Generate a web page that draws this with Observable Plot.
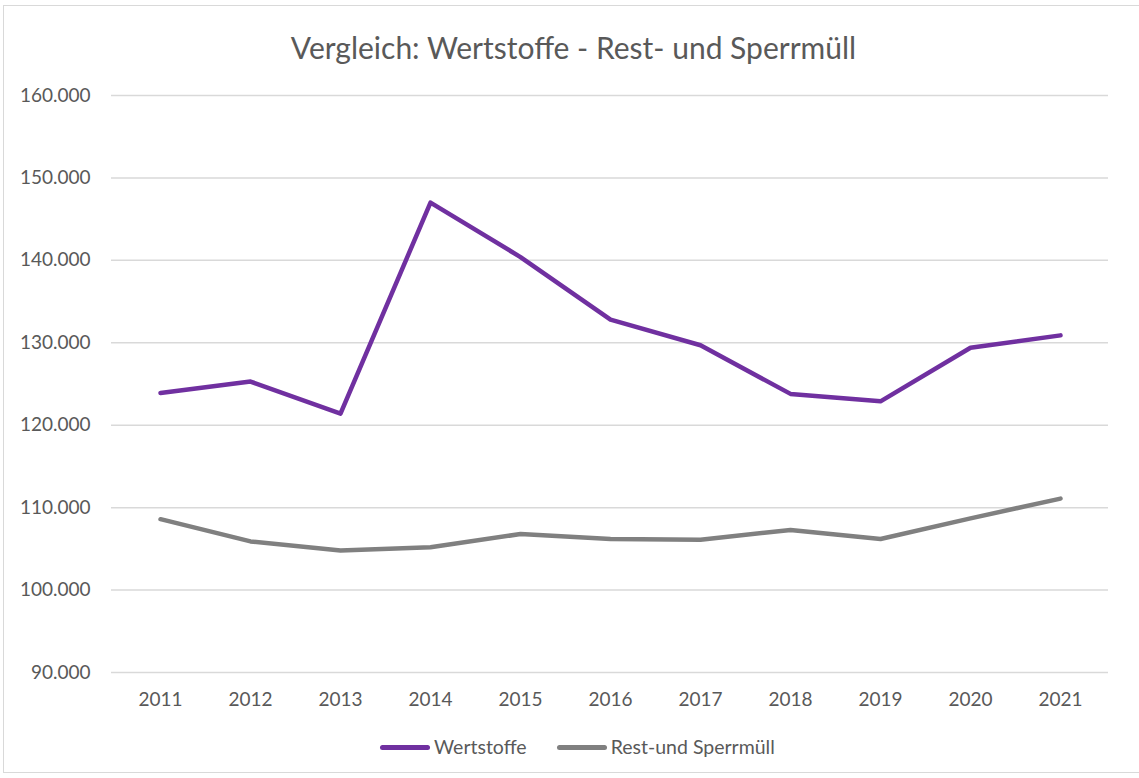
<!DOCTYPE html>
<html>
<head>
<meta charset="utf-8">
<script src="https://cdn.jsdelivr.net/npm/d3@7"></script>
<script src="https://cdn.jsdelivr.net/npm/@observablehq/plot@0.6"></script>
<style>
  html, body { margin: 0; padding: 0; background: #fff; }
  body { width: 1139px; height: 778px; position: relative; overflow: hidden; font-family: Lato, "Liberation Sans", sans-serif; }
  #frame { position: absolute; left: 3px; top: 5px; width: 1140px; height: 768px; border: 1px solid #d9d9d9; box-sizing: border-box; }
  #title { position: absolute; left: 0; top: 27px; width: 1139px; text-align: center; font-size: 30px; color: #595959; line-height: 40px; padding-left: 8px; box-sizing: border-box; }
  #chart { position: absolute; left: 0; top: 70px; }
  #legend { position: absolute; top: 735px; left: 380px; display: flex; align-items: center; font-size: 19.5px; color: #595959; line-height: 24px; }
  .sw { display: inline-block; width: 50px; height: 5px; border-radius: 3px; margin-right: 4px; }
  .item { display: flex; align-items: center; margin-right: 30px; }
</style>
</head>
<body>
<div id="frame"></div>
<div id="title">Vergleich: Wertstoffe - Rest- und Sperrmüll</div>
<div id="chart"></div>
<div id="legend"></div>
<script>
const years = ["2011","2012","2013","2014","2015","2016","2017","2018","2019","2020","2021"];
const wertstoffe = [123900, 125300, 121400, 147000, 140400, 132800, 129700, 123800, 122900, 129400, 130900];
const restSperr = [108600, 105900, 104800, 105200, 106800, 106200, 106100, 107300, 106200, 108700, 111100];
const seriesNames = ["Wertstoffe", "Rest-und Sperrmüll"];
const seriesColors = ["#7030A0", "#808080"];
const yTicks = [90000, 100000, 110000, 120000, 130000, 140000, 150000, 160000];

const de = d3.formatLocale({decimal: ",", thousands: ".", grouping: [3], currency: ["", " €"]});
const fmt = de.format(",d");

const data = [];
years.forEach((y, i) => {
  data.push({year: y, value: wertstoffe[i], series: seriesNames[0]});
  data.push({year: y, value: restSperr[i], series: seriesNames[1]});
});

const plot = Plot.plot({
  width: 1139,
  height: 640,
  marginLeft: 111,
  marginRight: 31,
  marginTop: 25,
  marginBottom: 38,
  style: {fontFamily: "Lato, 'Liberation Sans', sans-serif", fontSize: "19px", color: "#595959", background: "transparent"},
  x: {type: "point", domain: years, padding: 0.5, label: null, tickSize: 0, tickPadding: 20},
  y: {domain: [90000, 160000], ticks: yTicks, tickFormat: fmt, label: null, tickSize: 0, tickPadding: 21},
  color: {domain: seriesNames, range: seriesColors},
  marks: [
    Plot.ruleY(yTicks, {stroke: "#d9d9d9", strokeWidth: 1.5}),
    Plot.line(data, {x: "year", y: "value", z: "series", stroke: "series", strokeWidth: 4.5, strokeLinejoin: "round", strokeLinecap: "round"})
  ]
});
plot.querySelectorAll("g[aria-label='x-axis tick label'] text, g[aria-label='y-axis tick label'] text").forEach(t => t.setAttribute("fill", "#595959"));
document.getElementById("chart").appendChild(plot);

const leg = document.getElementById("legend");
seriesNames.forEach((n, i) => {
  const it = document.createElement("div");
  it.className = "item";
  const sw = document.createElement("span");
  sw.className = "sw";
  sw.style.background = seriesColors[i];
  it.appendChild(sw);
  const t = document.createElement("span");
  t.textContent = n;
  it.appendChild(t);
  leg.appendChild(it);
});
</script>
</body>
</html>
